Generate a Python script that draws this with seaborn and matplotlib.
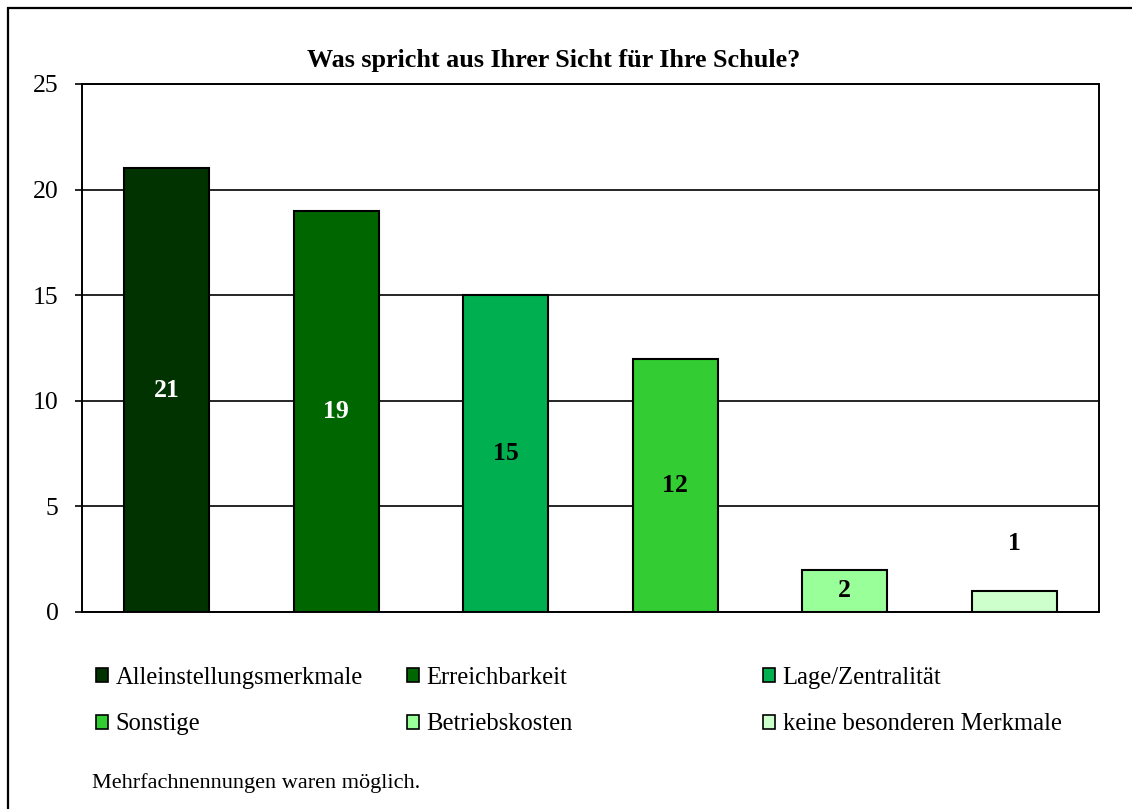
import matplotlib
matplotlib.use("Agg")
import matplotlib.pyplot as plt
import matplotlib.patches as mpatches
import seaborn as sns

categories = [
    "Alleinstellungsmerkmale",
    "Erreichbarkeit",
    "Lage/Zentralität",
    "Sonstige",
    "Betriebskosten",
    "keine besonderen Merkmale",
]
values = [21, 19, 15, 12, 2, 1]
bar_colors = ["#003300", "#006600", "#00B050", "#33CC33", "#99FF99", "#CCFFCC"]
label_colors = ["white", "white", "black", "black", "black", "black"]
y_ticks = [0, 5, 10, 15, 20, 25]

title = "Was spricht aus Ihrer Sicht für Ihre Schule?"
footnote = "Mehrfachnennungen waren möglich."

sns.set_style("white")
plt.rcParams["font.family"] = ["Liberation Serif", "DejaVu Serif"]
plt.rcParams["text.color"] = "black"
plt.rcParams["ytick.color"] = "black"
plt.rcParams["ytick.labelcolor"] = "black"

W, H = 1132, 809
fig = plt.figure(figsize=(W / 100, H / 100), dpi=100)
ax = fig.add_axes([82 / W, 1 - 612 / H, (1099 - 82) / W, (612 - 84) / H])

sns.barplot(
    x=categories, y=values, hue=categories, palette=bar_colors,
    width=0.5, edgecolor="black", linewidth=1.5, saturation=1,
    legend=False, ax=ax,
)

ax.set_ylim(0, 25)
ax.set_yticks(y_ticks)
ax.set_xlabel("")
ax.set_ylabel("")
ax.tick_params(axis="x", length=0, labelbottom=False)
ax.tick_params(axis="y", direction="out", length=5, width=1.2, color="black",
               labelcolor="black", pad=12, labelsize=18.5, left=True)
ax.yaxis.grid(True, color="black", linewidth=1.2)
ax.set_axisbelow(True)
for sp in ax.spines.values():
    sp.set_visible(True)
    sp.set_color("black")
    sp.set_linewidth(1.4)

# value labels: centred inside the bars, above the smallest one
bars = ax.patches
for i, (bar, v) in enumerate(zip(bars, values)):
    x = bar.get_x() + bar.get_width() / 2
    if i < len(values) - 1:
        ax.text(x, v / 2, str(v), ha="center", va="center",
                fontsize=18.5, fontweight="bold", color=label_colors[i])
    else:
        ax.annotate(str(v), xy=(x, v), xytext=(0, 34), textcoords="offset points",
                    ha="center", va="center", fontsize=18.5, fontweight="bold",
                    color=label_colors[i])

fig.text(554 / W, 1 - 60 / H, title, ha="center", va="center",
         fontsize=18.8, fontweight="bold", color="black")

# legend in three columns with independent positions
handles = [mpatches.Patch(facecolor=c, edgecolor="black", linewidth=1.2) for c in bar_colors]
col_x = [96, 407, 763]
for col in range(3):
    idx = [col, col + 3]
    leg = fig.legend([handles[k] for k in idx], [categories[k] for k in idx],
                     loc="center left", bbox_to_anchor=(col_x[col] / W, 1 - 701 / H),
                     frameon=False, fontsize=17.7, borderpad=0, borderaxespad=0,
                     handlelength=0.5, handleheight=0.5, handletextpad=0.3,
                     labelspacing=1.0)
    for t in leg.get_texts():
        t.set_color("black")

fig.text(92 / W, 1 - 783 / H, footnote, ha="left", va="center", fontsize=16,
         color="black")

# outer chart frame (runs past the right and bottom edges)
fig.add_artist(mpatches.Rectangle((8 / W, -0.2), 1.2, 1 - 8 / H + 0.2,
                                  transform=fig.transFigure, fill=False,
                                  edgecolor="black", linewidth=1.6))

fig.savefig("out.png", dpi=100)
